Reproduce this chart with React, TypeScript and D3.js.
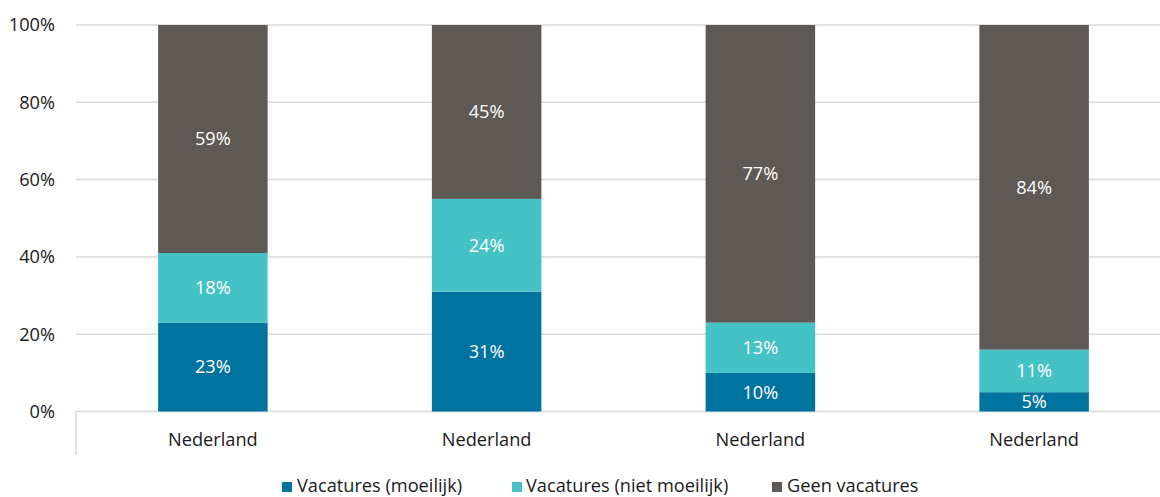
import React from 'react';
import { scaleBand, scaleLinear, stack } from 'd3';

const categories = ['Nederland', 'Nederland', 'Nederland', 'Nederland'];
const moeilijk = [23, 31, 10, 5];
const nietMoeilijk = [18, 24, 13, 11];
const geen = [59, 45, 77, 84];
const yTicks = [0, 20, 40, 60, 80, 100];

const seriesNames = ['Vacatures (moeilijk)', 'Vacatures (niet moeilijk)', 'Geen vacatures'];
const seriesColors = ['#00739f', '#44c2c6', '#5e5955'];

const W = 1160;
const H = 497;
const FONT = "'Open Sans', 'Noto Sans', sans-serif";
const FS = 18.2;

export default function App() {
  const rows = categories.map((c, i) => ({
    idx: i,
    s0: moeilijk[i],
    s1: nietMoeilijk[i],
    s2: geen[i],
  }));
  const stacked = stack<any>().keys(['s0', 's1', 's2'])(rows);

  const left = 76;
  const right = 1171;
  const x = scaleBand<number>()
    .domain(rows.map(r => r.idx))
    .range([left, right])
    .paddingInner(0.6)
    .paddingOuter(0.3);
  const y = scaleLinear().domain([0, 100]).range([411.5, 25]);

  const legendItems = [
    { sx: 282, tx: 297 },
    { sx: 512, tx: 526 },
    { sx: 772, tx: 787 },
  ];

  return (
    <div style={{ position: 'absolute', left: 0, top: 0 }}>
      <svg width={W} height={H} style={{ display: 'block', background: '#fff' }} fontFamily={FONT}>
        {/* gridlines */}
        {yTicks.map(t => (
          <g key={t}>
            <line x1={left} x2={W} y1={y(t)} y2={y(t)} stroke="#d9d9d9" strokeWidth={1.5} />
            <text x={55} y={y(t)} dy="0.35em" textAnchor="end" fontSize={FS} fill="#1a1a1a">
              {t}%
            </text>
          </g>
        ))}
        {/* category axis */}
        <line x1={left} x2={left} y1={y(0)} y2={455} stroke="#d9d9d9" strokeWidth={1.5} />

        {/* bars */}
        {stacked.map((layer, si) => (
          <g key={si}>
            {layer.map((d, i) => {
              const y0 = y(d[0]);
              const y1 = y(d[1]);
              return (
                <g key={i}>
                  <rect x={x(i)} width={x.bandwidth()} y={y1} height={y0 - y1} fill={seriesColors[si]} />
                  <text
                    x={(x(i) as number) + x.bandwidth() / 2}
                    y={(y0 + y1) / 2}
                    dy="0.35em"
                    textAnchor="middle"
                    fontSize={FS}
                    fill="#ffffff"
                  >
                    {d[1] - d[0]}%
                  </text>
                </g>
              );
            })}
          </g>
        ))}

        {/* category labels */}
        {categories.map((c, i) => (
          <text
            key={i}
            x={(x(i) as number) + x.bandwidth() / 2}
            y={440}
            dy="0.35em"
            textAnchor="middle"
            fontSize={FS}
            fill="#1a1a1a"
          >
            {c}
          </text>
        ))}

        {/* legend */}
        {seriesNames.map((name, i) => (
          <g key={name}>
            <rect x={legendItems[i].sx} y={482} width={10} height={10} fill={seriesColors[i]} />
            <text x={legendItems[i].tx} y={486} dy="0.35em" fontSize={FS} fill="#1a1a1a">
              {name}
            </text>
          </g>
        ))}
      </svg>
    </div>
  );
}
